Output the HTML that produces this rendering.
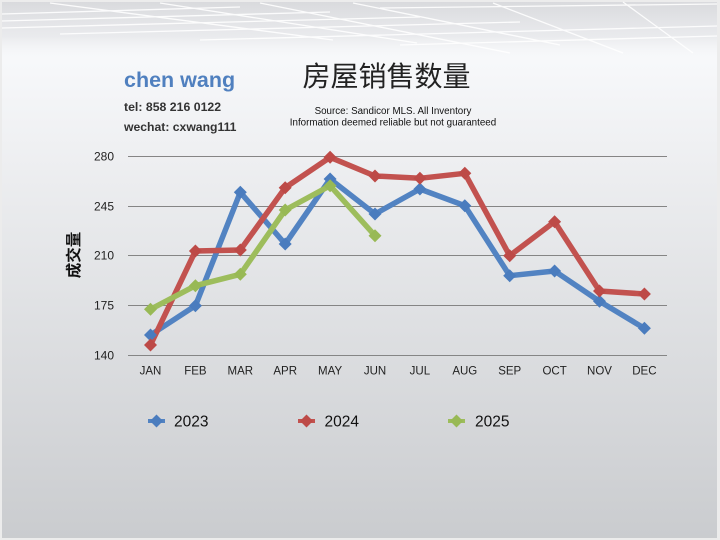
<!DOCTYPE html>
<html><head><meta charset="utf-8"><style>
html,body{margin:0;padding:0;width:720px;height:540px;overflow:hidden;}
svg{display:block;}
text{font-family:"Liberation Sans","Noto Sans CJK SC",sans-serif;}
</style></head><body>
<svg width="720" height="540" viewBox="0 0 720 540" xmlns="http://www.w3.org/2000/svg">
<defs>
<linearGradient id="bg" x1="0" y1="0" x2="0" y2="1">
<stop offset="0" stop-color="#f8f9fb"/>
<stop offset="0.11" stop-color="#f7f8fa"/>
<stop offset="1" stop-color="#cacccf"/>
</linearGradient>
<linearGradient id="top" x1="0" y1="0" x2="0" y2="1">
<stop offset="0" stop-color="#d9dadd"/>
<stop offset="0.6" stop-color="#e6e7ea" stop-opacity="0.8"/>
<stop offset="1" stop-color="#f7f8fa" stop-opacity="0"/>
</linearGradient>
</defs>
<rect x="0" y="0" width="720" height="540" fill="#ececec"/>
<rect x="2" y="2" width="715" height="536" fill="url(#bg)"/>
<rect x="2" y="2" width="715" height="58" fill="url(#top)"/>
<g stroke="#ffffff" stroke-width="1.3" opacity="0.9" fill="none">
<line x1="2" y1="14" x2="240" y2="7"/>
<line x1="2" y1="21" x2="330" y2="12"/>
<line x1="2" y1="28" x2="420" y2="17"/>
<line x1="60" y1="34" x2="520" y2="22"/>
<line x1="200" y1="40" x2="717" y2="26"/>
<line x1="400" y1="45" x2="717" y2="36"/>
<line x1="380" y1="8" x2="717" y2="4"/>
<line x1="50" y1="3" x2="333" y2="40"/>
<line x1="160" y1="3" x2="417" y2="43"/>
<line x1="260" y1="3" x2="510" y2="53"/>
<line x1="353" y1="3" x2="560" y2="45"/>
<line x1="493" y1="3" x2="623" y2="53"/>
<line x1="623" y1="2" x2="693" y2="53"/>
</g>

<!-- header text -->
<text x="124" y="87" font-size="21.5" font-weight="bold" fill="#5080bf">chen wang</text>
<text x="124" y="111" font-size="12.3" font-weight="bold" fill="#333">tel: 858 216 0122</text>
<text x="124" y="131" font-size="12.2" font-weight="bold" fill="#333">wechat: cxwang111</text>
<text x="386.5" y="86" font-size="28" fill="#222" text-anchor="middle" font-family="'Noto Sans CJK SC',sans-serif">房屋销售数量</text>
<text x="393" y="114" font-size="9.8" fill="#111" text-anchor="middle">Source: Sandicor MLS. All Inventory</text>
<text x="393" y="125.5" font-size="9.8" fill="#111" text-anchor="middle">Information deemed reliable but not guaranteed</text>

<!-- grid -->
<g stroke="#858585" stroke-width="1">
<line x1="128" y1="156.5" x2="667" y2="156.5"/>
<line x1="128" y1="206.5" x2="667" y2="206.5"/>
<line x1="128" y1="255.5" x2="667" y2="255.5"/>
<line x1="128" y1="305.5" x2="667" y2="305.5"/>
<line x1="128" y1="355.5" x2="667" y2="355.5"/>
</g>
<g font-size="12" fill="#222" text-anchor="end">
<text x="114" y="160.5">280</text>
<text x="114" y="210.5">245</text>
<text x="114" y="259.5">210</text>
<text x="114" y="309.5">175</text>
<text x="114" y="359.5">140</text>
</g>
<text transform="translate(79,255) rotate(-90)" font-size="15.5" font-weight="bold" fill="#111" text-anchor="middle" font-family="'Noto Sans CJK SC',sans-serif">成交量</text>
<g font-size="11.5" fill="#222" text-anchor="middle">
<text x="150.5" y="374.5">JAN</text>
<text x="195.4" y="374.5">FEB</text>
<text x="240.3" y="374.5">MAR</text>
<text x="285.2" y="374.5">APR</text>
<text x="330.1" y="374.5">MAY</text>
<text x="375" y="374.5">JUN</text>
<text x="419.9" y="374.5">JUL</text>
<text x="464.8" y="374.5">AUG</text>
<text x="509.7" y="374.5">SEP</text>
<text x="554.6" y="374.5">OCT</text>
<text x="599.5" y="374.5">NOV</text>
<text x="644.4" y="374.5">DEC</text>
</g>

<!-- series lines -->
<g fill="none" stroke-width="5.5" stroke-linejoin="round" stroke-linecap="round">
<polyline stroke="#5283c2" points="150.5,335 195.4,305.7 240.3,192.3 285.2,244 330.1,179 375,214 419.9,189 464.8,205.7 509.7,275.7 554.6,271 599.5,301.3 644.4,328.3"/>
<polyline stroke="#c2524f" points="150.5,345 195.4,251 240.3,250 285.2,187.7 330.1,157.3 375,176 419.9,178.3 464.8,173.3 509.7,255.7 554.6,221.7 599.5,291 644.4,294"/>
<polyline stroke="#9dbd5c" points="150.5,309.3 195.4,285.7 240.3,274.3 285.2,210 330.1,185.7 375,235.7"/>
</g>
<!-- markers -->
<g fill="#4a7cbe">
<path d="M150.5,328.5l6.5,6.5l-6.5,6.5l-6.5,-6.5z"/>
<path d="M195.4,299.2l6.5,6.5l-6.5,6.5l-6.5,-6.5z"/>
<path d="M240.3,185.8l6.5,6.5l-6.5,6.5l-6.5,-6.5z"/>
<path d="M285.2,237.5l6.5,6.5l-6.5,6.5l-6.5,-6.5z"/>
<path d="M330.1,172.5l6.5,6.5l-6.5,6.5l-6.5,-6.5z"/>
<path d="M375,207.5l6.5,6.5l-6.5,6.5l-6.5,-6.5z"/>
<path d="M419.9,182.5l6.5,6.5l-6.5,6.5l-6.5,-6.5z"/>
<path d="M464.8,199.2l6.5,6.5l-6.5,6.5l-6.5,-6.5z"/>
<path d="M509.7,269.2l6.5,6.5l-6.5,6.5l-6.5,-6.5z"/>
<path d="M554.6,264.5l6.5,6.5l-6.5,6.5l-6.5,-6.5z"/>
<path d="M599.5,294.8l6.5,6.5l-6.5,6.5l-6.5,-6.5z"/>
<path d="M644.4,321.8l6.5,6.5l-6.5,6.5l-6.5,-6.5z"/>
</g>
<g fill="#bd4a47">
<path d="M150.5,338.5l6.5,6.5l-6.5,6.5l-6.5,-6.5z"/>
<path d="M195.4,244.5l6.5,6.5l-6.5,6.5l-6.5,-6.5z"/>
<path d="M240.3,243.5l6.5,6.5l-6.5,6.5l-6.5,-6.5z"/>
<path d="M285.2,181.2l6.5,6.5l-6.5,6.5l-6.5,-6.5z"/>
<path d="M330.1,150.8l6.5,6.5l-6.5,6.5l-6.5,-6.5z"/>
<path d="M375,169.5l6.5,6.5l-6.5,6.5l-6.5,-6.5z"/>
<path d="M419.9,171.8l6.5,6.5l-6.5,6.5l-6.5,-6.5z"/>
<path d="M464.8,166.8l6.5,6.5l-6.5,6.5l-6.5,-6.5z"/>
<path d="M509.7,249.2l6.5,6.5l-6.5,6.5l-6.5,-6.5z"/>
<path d="M554.6,215.2l6.5,6.5l-6.5,6.5l-6.5,-6.5z"/>
<path d="M599.5,284.5l6.5,6.5l-6.5,6.5l-6.5,-6.5z"/>
<path d="M644.4,287.5l6.5,6.5l-6.5,6.5l-6.5,-6.5z"/>
</g>
<g fill="#98b955">
<path d="M150.5,302.8l6.5,6.5l-6.5,6.5l-6.5,-6.5z"/>
<path d="M195.4,279.2l6.5,6.5l-6.5,6.5l-6.5,-6.5z"/>
<path d="M240.3,267.8l6.5,6.5l-6.5,6.5l-6.5,-6.5z"/>
<path d="M285.2,203.5l6.5,6.5l-6.5,6.5l-6.5,-6.5z"/>
<path d="M330.1,179.2l6.5,6.5l-6.5,6.5l-6.5,-6.5z"/>
<path d="M375,229.2l6.5,6.5l-6.5,6.5l-6.5,-6.5z"/>
</g>

<!-- legend -->
<g stroke-width="4">
<line x1="148" y1="421" x2="165" y2="421" stroke="#5283c2"/>
<line x1="298" y1="421" x2="315" y2="421" stroke="#c2524f"/>
<line x1="448" y1="421" x2="465" y2="421" stroke="#9dbd5c"/>
</g>
<path d="M156.5,414.5l6.5,6.5l-6.5,6.5l-6.5,-6.5z" fill="#4a7cbe"/>
<path d="M306.5,414.5l6.5,6.5l-6.5,6.5l-6.5,-6.5z" fill="#bd4a47"/>
<path d="M456.5,414.5l6.5,6.5l-6.5,6.5l-6.5,-6.5z" fill="#98b955"/>
<g font-size="15.5" fill="#111">
<text x="174" y="426.5">2023</text>
<text x="324.5" y="426.5">2024</text>
<text x="475" y="426.5">2025</text>
</g>
</svg>
</body></html>
